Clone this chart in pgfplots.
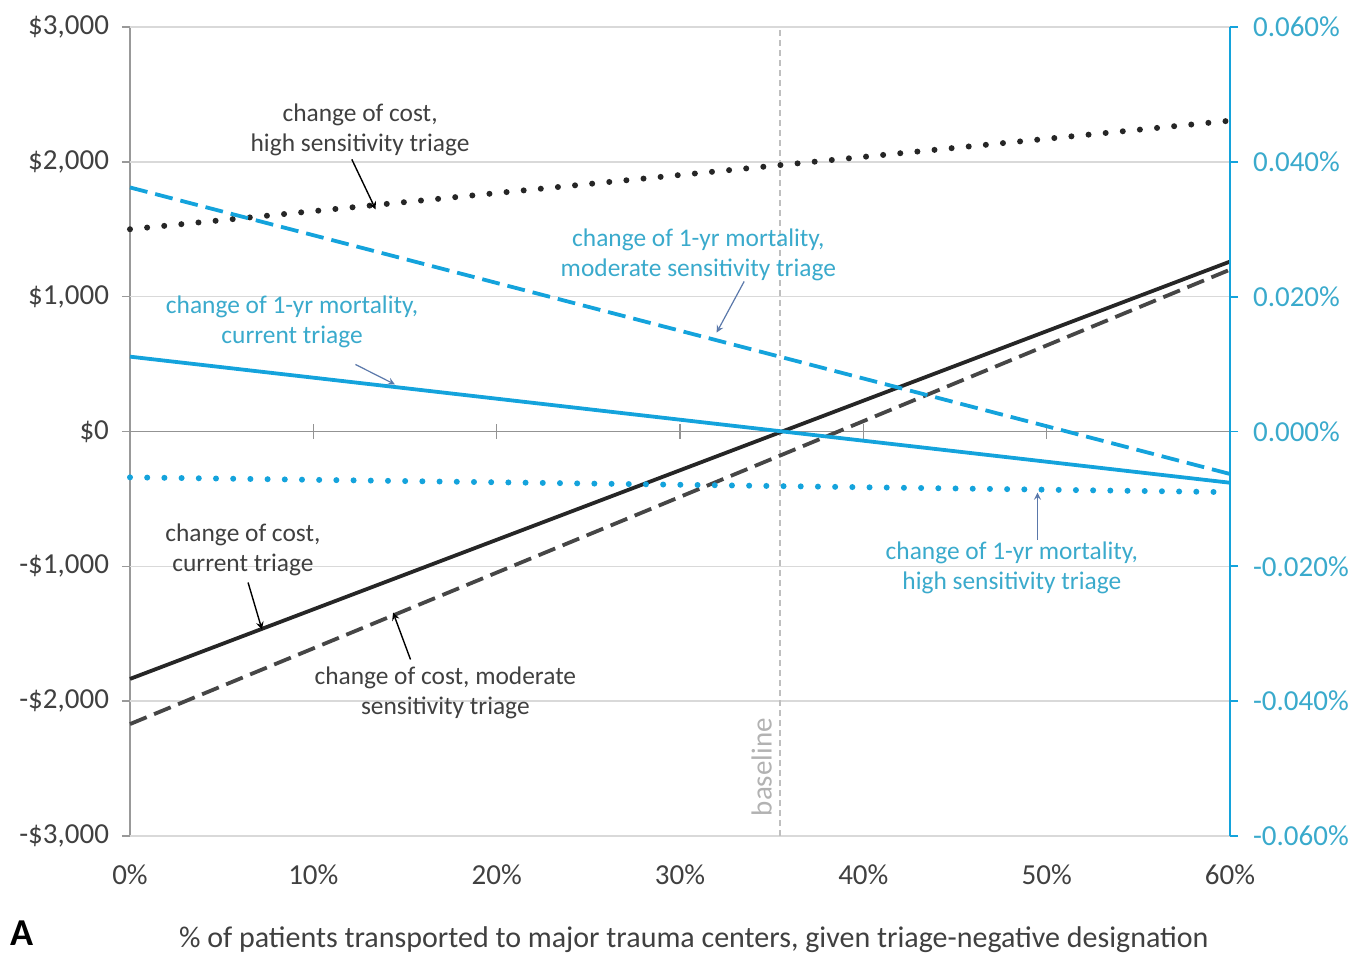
\documentclass[border=0pt]{standalone}
\usepackage{pgfplots}
\pgfplotsset{compat=1.18}
\usepackage{fontspec}
\setmainfont{Carlito}
\definecolor{lblue}{RGB}{20,163,220}
\definecolor{tblue}{RGB}{58,170,204}
\definecolor{dk}{RGB}{38,38,38}
\definecolor{dkg}{RGB}{70,70,70}
\definecolor{txt}{RGB}{64,64,64}
\definecolor{grd}{RGB}{217,217,217}
\begin{document}
\begin{tikzpicture}
\useasboundingbox (-65pt,-61pt) rectangle (617.5pt,418pt);
\begin{axis}[
  at={(0,0)}, anchor=south west,
  scale only axis, width=550pt, height=404.5pt,
  xmin=0, xmax=60, ymin=-3000, ymax=3000,
  axis x line=none,
  axis y line*=left,
  y axis line style={draw=gray!80, line width=0.8pt},
  ytick={-3000,-2000,-1000,0,1000,2000,3000},
  yticklabels={{-\$3,000},{-\$2,000},{-\$1,000},{\$0},{\$1,000},{\$2,000},{\$3,000}},
  scaled y ticks=false,
  tick style={draw=gray!80, line width=0.8pt},
  tick align=outside, major tick length=4pt,
  yticklabel style={font=\fontsize{14.5}{16}\selectfont, text=txt, xshift=-3pt},
  clip=false,
  /pgf/number format/assume math mode=true,
]
% grid lines
\pgfplotsinvokeforeach{-3000,-2000,-1000,1000,2000,3000}{
  \draw[grd, line width=0.8pt] (axis cs:0,#1) -- (axis cs:60,#1);
}
\draw[gray!85, line width=0.9pt] (axis cs:0,0) -- (axis cs:60,0);
\pgfplotsinvokeforeach{10,20,30,40,50}{
  \draw[gray!85, line width=0.8pt] (axis cs:#1,-55) -- (axis cs:#1,55);
}
% x tick labels
\pgfplotsinvokeforeach{0,10,20,30,40,50,60}{
  \node[font=\fontsize{14.5}{16}\selectfont, text=txt] at (axis cs:#1,-3000) [yshift=-19.5pt] {#1\%};
}
% baseline
\draw[gray!50, line width=0.6pt, dash pattern=on 3pt off 2pt] (axis cs:35.45,-3000) -- (axis cs:35.45,3000);
\node[rotate=90, text=gray!60, font=\fontsize{14.5}{16}\selectfont] at (axis cs:34.45,-2490) {baseline};
% cost series
\addplot[dk, dash pattern=on 0pt off 8.6pt, line cap=round, line width=3pt] coordinates {(0,1500) (60,2305)};
\addplot[dk, line width=1.9pt] coordinates {(0,-1835) (60,1260)};
\addplot[dkg, line width=1.9pt, dash pattern=on 9pt off 4pt] coordinates {(0,-2170) (60,1200)};
% annotations (cost)
\node[align=center, text=txt, font=\fontsize{12.7}{15}\selectfont] at (axis cs:12.55,2240) {change of cost,\\high sensitivity triage};
\draw[-stealth, black, line width=0.7pt] (axis cs:12.1,2018) -- (axis cs:13.4,1647);
\node[align=center, text=txt, font=\fontsize{12.7}{15}\selectfont] at (axis cs:6.16,-875) {change of cost,\\current triage};
\draw[-stealth, black, line width=0.7pt] (axis cs:6.44,-1120) -- (axis cs:7.2,-1469);
\node[align=center, text=txt, font=\fontsize{12.7}{15}\selectfont] at (axis cs:17.2,-1936) {change of cost, moderate\\sensitivity triage};
\draw[-stealth, black, line width=0.7pt] (axis cs:15.3,-1691) -- (axis cs:14.35,-1343);
% x label
\node[text=txt, font=\fontsize{15}{17}\selectfont] at (axis cs:30.75,-3000) [yshift=-52pt] {\% of patients transported to major trauma centers, given triage-negative designation};
\node[font=\bfseries\fontsize{19}{21}\selectfont, text=black, inner sep=0pt, anchor=base] at (axis cs:0,-3000) [xshift=-54pt, yshift=-54.5pt] {A};
\end{axis}
\begin{axis}[
  at={(0,0)}, anchor=south west,
  scale only axis, width=550pt, height=404.5pt,
  xmin=0, xmax=60, ymin=-0.06, ymax=0.06,
  axis x line=none,
  axis y line*=right,
  y axis line style={draw=lblue, line width=0.9pt},
  ytick={-0.06,-0.04,-0.02,0,0.02,0.04,0.06},
  yticklabels={{-0.060\%},{-0.040\%},{-0.020\%},{0.000\%},{0.020\%},{0.040\%},{0.060\%}},
  scaled y ticks=false,
  tick style={draw=lblue, line width=0.9pt},
  tick align=outside, major tick length=4pt,
  yticklabel style={font=\fontsize{14.5}{16}\selectfont, text=tblue, xshift=4pt},
  clip=false,
  /pgf/number format/assume math mode=true,
]
\addplot[lblue, line width=1.9pt, dash pattern=on 9pt off 4pt] coordinates {(0,0.0362) (60,-0.0063)};
\addplot[lblue, line width=1.9pt] coordinates {(0,0.0111) (60,-0.0076)};
\addplot[lblue, line width=3pt, dash pattern=on 0pt off 8.6pt, line cap=round] coordinates {(0,-0.0068) (60,-0.0090)};
\node[align=center, text=tblue, font=\fontsize{12.7}{15}\selectfont] at (axis cs:31.0,0.02626) {change of 1-yr mortality,\\moderate sensitivity triage};
\draw[-stealth, color={rgb,255:red,90;green,120;blue,170}, line width=0.6pt] (axis cs:33.5,0.02226) -- (axis cs:32.0,0.01468);
\node[align=center, text=tblue, font=\fontsize{12.7}{15}\selectfont] at (axis cs:8.84,0.01632) {change of 1-yr mortality,\\current triage};
\draw[-stealth, color={rgb,255:red,90;green,120;blue,170}, line width=0.6pt] (axis cs:12.3,0.00994) -- (axis cs:14.45,0.00698);
\node[align=center, text=tblue, font=\fontsize{12.7}{15}\selectfont] at (axis cs:48.1,-0.02018) {change of 1-yr mortality,\\high sensitivity triage};
\draw[-stealth, color={rgb,255:red,90;green,120;blue,170}, line width=0.6pt] (axis cs:49.5,-0.01602) -- (axis cs:49.5,-0.00906);
\end{axis}
\end{tikzpicture}
\end{document}
